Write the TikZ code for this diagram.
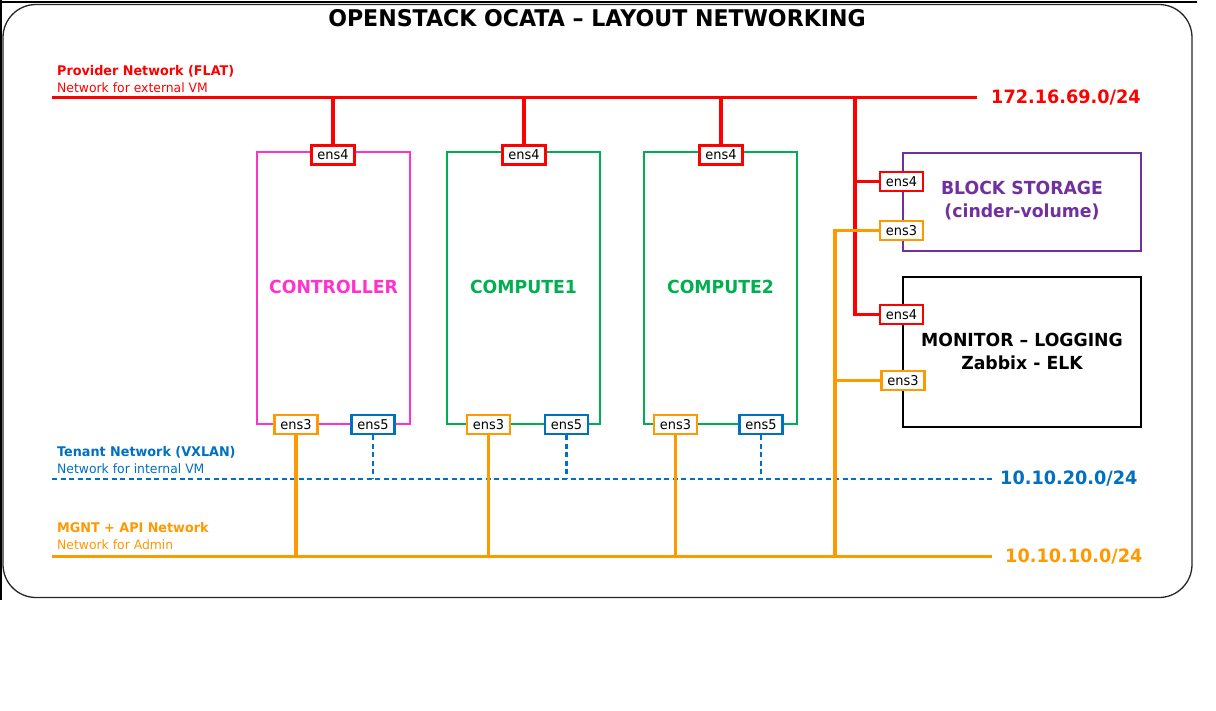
\documentclass[tikz,border=0pt]{standalone}
\usepackage{fontspec}
\setmainfont{DejaVu Sans}[FakeStretch=0.96]
\definecolor{netred}{RGB}{255,0,0}
\definecolor{netpink}{RGB}{255,51,204}
\definecolor{netgreen}{RGB}{0,176,80}
\definecolor{netblue}{RGB}{0,112,192}
\definecolor{netorange}{RGB}{255,153,0}
\definecolor{netpurple}{RGB}{112,48,160}
\tikzset{
  hostbox/.style={draw,line width=2.6pt,fill=white,minimum width=153pt,minimum height=272pt,inner sep=0pt},
  sidebox/.style={draw,line width=2.6pt,fill=white,minimum width=238pt,inner sep=0pt},
  port/.style={draw,line width=2.8pt,fill=white,minimum width=43pt,minimum height=19pt,inner sep=0pt,font=\fontsize{13.5}{13.5}\selectfont,text=black},
  netline/.style={line width=3.2pt},
  hostlabel/.style={font=\fontsize{18}{20}\selectfont\bfseries},
  iplabel/.style={font=\fontsize{18.4}{20}\selectfont\bfseries,anchor=west,inner sep=0pt},
  nettitle/.style={font=\fontsize{13.3}{14}\selectfont\bfseries,anchor=west,inner sep=0pt},
  netsub/.style={font=\fontsize{12.9}{14}\selectfont,anchor=west,inner sep=0pt},
  tenantdash/.style={line width=2.8pt,dash pattern=on 5pt off 3.5pt}
}
\begin{document}
\begin{tikzpicture}[x=1pt,y=-1pt]
\useasboundingbox (0,0) rectangle (1216,710);
\fill[white] (0,0) rectangle (1216,710);
% frame
\draw[line width=1.2pt] (0,2) -- (1197,2);
\draw[line width=1.2pt] (1,0) -- (1,600);
\draw[line width=1.3pt,rounded corners=33pt,draw=black!85] (3,4.5) rectangle (1192,597.5);
\node[font=\fontsize{23}{26}\selectfont\bfseries] (title) at (597,18.5) {OPENSTACK OCATA – LAYOUT NETWORKING};

% network lines
\coordinate (pW) at (52,97.5);  \coordinate (pE) at (977,97.5);
\coordinate (tW) at (52,479);   \coordinate (tE) at (992,479);
\coordinate (mW) at (52,556.5); \coordinate (mE) at (992,556.5);
\draw[netline,netred] (pW) -- (pE);
\draw[tenantdash,netblue] (tW) -- (tE);
\draw[netline,netorange] (mW) -- (mE);

\node[nettitle,text=netred] (pt) at (57,71) {Provider Network (FLAT)};
\node[netsub,text=netred] (ps) at (57,88) {Network for external VM};
\node[nettitle,text=netblue] (tt) at (57,452) {Tenant Network (VXLAN)};
\node[netsub,text=netblue] (ts) at (57,469) {Network for internal VM};
\node[nettitle,text=netorange] (mt) at (57,528) {MGNT + API Network};
\node[netsub,text=netorange] (ms) at (57,545) {Network for Admin};

\node[iplabel,text=netred] (pip) at (991,98) {172.16.69.0/24};
\node[iplabel,text=netblue] (tip) at (1000,479) {10.10.20.0/24};
\node[iplabel,text=netorange] (mip) at (1005,556.5) {10.10.10.0/24};

% hosts
\node[hostbox,draw=netpink] (ctl) at (333.5,288) {};
\node[hostbox,draw=netgreen] (cp1) at (523.5,288) {};
\node[hostbox,draw=netgreen] (cp2) at (720.5,288) {};
\node[hostlabel,text=netpink] (ctlL) at (333.5,287) {CONTROLLER};
\node[hostlabel,text=netgreen] (cp1L) at (523.5,287) {COMPUTE1};
\node[hostlabel,text=netgreen] (cp2L) at (720.5,287) {COMPUTE2};

\node[sidebox,draw=netpurple,minimum height=98pt] (bs) at (1022,202) {};
\node[hostlabel,text=netpurple,align=center,font=\fontsize{18}{23}\selectfont\bfseries] (bsL) at (1022,201) {BLOCK STORAGE\\(cinder-volume)};
\node[sidebox,draw=black,minimum height=150pt] (mon) at (1022,352) {};
\node[hostlabel,text=black,align=center,font=\fontsize{18}{23}\selectfont\bfseries] (monL) at (1022,351.5) {MONITOR – LOGGING\\Zabbix - ELK};

% ports
\node[port,draw=netred] (c4) at (333,155) {ens4};
\node[port,draw=netred] (a4) at (524,155) {ens4};
\node[port,draw=netred] (b4) at (721,155) {ens4};
\node[port,draw=netorange] (c3) at (296,424.5) {ens3};
\node[port,draw=netblue] (c5) at (373,424.5) {ens5};
\node[port,draw=netorange] (a3) at (488.5,424.5) {ens3};
\node[port,draw=netblue] (a5) at (566.5,424.5) {ens5};
\node[port,draw=netorange] (b3) at (675.5,424.5) {ens3};
\node[port,draw=netblue] (b5) at (761,424.5) {ens5};
\node[port,draw=netred] (s4) at (901.5,181.5) {ens4};
\node[port,draw=netorange] (s3) at (901.5,230.5) {ens3};
\node[port,draw=netred] (m4) at (901.5,314.5) {ens4};
\node[port,draw=netorange] (m3) at (903,380.5) {ens3};

% connectors
\coordinate (rj) at (855,97.5);
\coordinate (oj) at (835,556.5);
\draw[netline,netred] (c4.north) -- (c4.north |- pW);
\draw[netline,netred] (a4.north) -- (a4.north |- pW);
\draw[netline,netred] (b4.north) -- (b4.north |- pW);
\draw[netline,netorange] (c3.south) -- (c3.south |- mW);
\draw[netline,netorange] (a3.south) -- (a3.south |- mW);
\draw[netline,netorange] (b3.south) -- (b3.south |- mW);
\draw[tenantdash,netblue] (c5.south) -- (c5.south |- tW);
\draw[tenantdash,netblue] (a5.south) -- (a5.south |- tW);
\draw[tenantdash,netblue] (b5.south) -- (b5.south |- tW);
\draw[netline,netred] (rj) |- (m4.west);
\draw[netline,netred] (s4.west) -- (s4.west -| rj);
\draw[netline,netorange] (s3.west) -| (oj);
\draw[netline,netorange] (m3.west) -- (m3.west -| oj);
\end{tikzpicture}
\end{document}
